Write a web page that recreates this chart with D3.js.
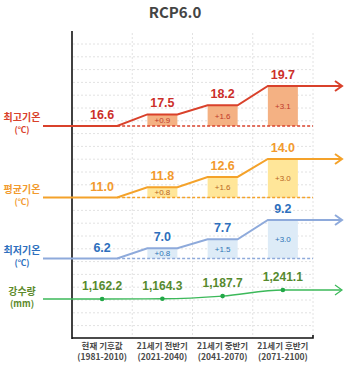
<!DOCTYPE html>
<html><head><meta charset="utf-8">
<script src="https://cdn.jsdelivr.net/npm/d3@7"></script>
<style>
html,body{margin:0;padding:0;background:#fff;}
svg{display:block;font-family:"Noto Sans CJK KR","Noto Sans",sans-serif;}
</style></head>
<body>
<script>
const categories = ["현재 기후값", "21세기 전반기", "21세기 중반기", "21세기 후반기"];
const periods = ["(1981-2010)", "(2021-2040)", "(2041-2070)", "(2071-2100)"];
const tmax = [16.6, 17.5, 18.2, 19.7];
const tmaxDelta = [null, 0.9, 1.6, 3.1];
const tavg = [11.0, 11.8, 12.6, 14.0];
const tavgDelta = [null, 0.8, 1.6, 3.0];
const tmin = [6.2, 7.0, 7.7, 9.2];
const tminDelta = [null, 0.8, 1.5, 3.0];
const precip = [1162.2, 1164.3, 1187.7, 1241.1];
const seriesLabels = ["최고기온", "평균기온", "최저기온", "강수량"];
const unitLabels = ["(℃)", "(℃)", "(℃)", "(mm)"];

const W = 347, H = 372;
const svg = d3.select("body").append("svg").attr("width", W).attr("height", H);

const x = d3.scaleBand().domain(categories).range([72, 313]);
const cx = c => x(c) + x.bandwidth() / 2;
const halfBar = 15;

// grid
const gridTop = 31, gridBottom = 338;
const g = svg.append("g");
const hLines = d3.range(0, 23).map(i => 44 + i * 12.8);
g.selectAll(".hg").data(hLines).enter().append("line")
  .attr("x1", 73).attr("x2", 313).attr("y1", d => d).attr("y2", d => d)
  .attr("stroke", "#e2e2e2").attr("stroke-width", 1).attr("stroke-dasharray", "2,2");
g.selectAll(".vg").data(categories.slice(1).concat(["end"])).enter().append("line")
  .attr("x1", (d, i) => i < 3 ? x(d) : 313).attr("x2", (d, i) => i < 3 ? x(d) : 313)
  .attr("y1", gridTop + 2).attr("y2", gridBottom)
  .attr("stroke", "#e2e2e2").attr("stroke-width", 1).attr("stroke-dasharray", "2,2");

// axes
svg.append("line").attr("x1", 72).attr("x2", 72).attr("y1", gridTop).attr("y2", gridBottom + 1)
  .attr("stroke", "#111").attr("stroke-width", 1.6);
svg.append("path").attr("d", `M72,${gridBottom}H313V${gridBottom - 3}`)
  .attr("fill", "none").attr("stroke", "#111").attr("stroke-width", 1.6);

// title
svg.append("text").attr("x", 175).attr("y", 18).attr("text-anchor", "middle")
  .attr("font-size", 15).attr("font-weight", 700).attr("fill", "#444").text("RCP6.0");

// category labels
const xl = svg.append("g").attr("font-size", 8.5).attr("font-weight", 700).attr("fill", "#4a4a4a").attr("text-anchor", "middle");
categories.forEach((c, i) => {
  xl.append("text").attr("x", cx(c)).attr("y", 349).text(c);
  xl.append("text").attr("x", cx(c)).attr("y", 360).text(periods[i]);
});

const temps = [
  {vals: tmax, deltas: tmaxDelta, y: d3.scaleLinear().domain([16.6, 19.7]).range([126, 86]),
   line: "#d9412b", bar: "#f4b183", text: "#cc2f2a", dtext: "#c0392b", label: "#d9412b", lab: 0},
  {vals: tavg, deltas: tavgDelta, y: d3.scaleLinear().domain([11.0, 14.0]).range([197.5, 159]),
   line: "#f4a22a", bar: "#ffe699", text: "#f29a2e", dtext: "#b8651f", label: "#f29a2e", lab: 1},
  {vals: tmin, deltas: tminDelta, y: d3.scaleLinear().domain([6.2, 9.2]).range([258.5, 220]),
   line: "#8eaadb", bar: "#ddebf7", text: "#2e6fbd", dtext: "#2e75b6", label: "#2e6fbd", lab: 2}
];

function arrow(sel, xEnd, yv, color, w) {
  sel.append("path").attr("d", `M${xEnd - 7},${yv - 5}L${xEnd},${yv}L${xEnd - 7},${yv + 5}`)
    .attr("fill", "none").attr("stroke", color).attr("stroke-width", w).attr("stroke-linejoin", "miter");
}

temps.forEach(s => {
  const gg = svg.append("g");
  const y0 = s.y(s.vals[0]);
  // bars
  s.vals.forEach((v, i) => {
    if (i === 0) return;
    gg.append("rect").attr("x", cx(categories[i]) - halfBar).attr("width", halfBar * 2)
      .attr("y", s.y(v)).attr("height", y0 - s.y(v)).attr("fill", s.bar);
    gg.append("text").attr("x", cx(categories[i])).attr("y", (s.y(v) + y0) / 2 + 3)
      .attr("text-anchor", "middle").attr("font-size", 8).attr("font-family", "Arial, 'Liberation Sans', sans-serif")
      .attr("fill", s.dtext).text("+" + d3.format(".1f")(s.deltas[i]));
  });
  // dashed baseline
  gg.append("line").attr("x1", cx(categories[0]) + halfBar).attr("x2", 313).attr("y1", y0).attr("y2", y0)
    .attr("stroke", s.line).attr("stroke-width", 1.3).attr("stroke-dasharray", "3,2");
  // step line
  const pts = [[43, y0]];
  s.vals.forEach((v, i) => {
    const c = cx(categories[i]);
    if (i > 0) pts.push([c - halfBar, s.y(v)]);
    if (i < 3) pts.push([c + halfBar, s.y(v)]);
  });
  const yl = s.y(s.vals[3]);
  pts.push([341, yl]);
  gg.append("path").attr("d", d3.line()(pts)).attr("fill", "none").attr("stroke", s.line).attr("stroke-width", 2);
  arrow(gg, 342, yl, s.line, 2);
  // value labels
  s.vals.forEach((v, i) => {
    gg.append("text").attr("x", cx(categories[i])).attr("y", s.y(v) - 7).attr("text-anchor", "middle")
      .attr("font-size", 12.5).attr("font-weight", 700).attr("font-family", "Arial, 'Liberation Sans', sans-serif")
      .attr("fill", s.text).text(d3.format(".1f")(v));
  });
  // left labels
  gg.append("text").attr("x", 22).attr("y", y0 - 5).attr("text-anchor", "middle").attr("font-size", 10)
    .attr("font-weight", 700).attr("fill", s.label).text(seriesLabels[s.lab]);
  gg.append("text").attr("x", 22).attr("y", y0 + 7).attr("text-anchor", "middle").attr("font-size", 8.5)
    .attr("font-weight", 700).attr("fill", s.label).text(unitLabels[s.lab]);
});

// precipitation
const yp = d3.scaleLinear().domain([1162.2, 1241.1]).range([299, 290]);
const pg = svg.append("g");
const pPts = [[43, yp(precip[0])]].concat(precip.map((v, i) => [cx(categories[i]), yp(v)])).concat([[341, yp(precip[3])]]);
pg.append("path").attr("d", d3.line().curve(d3.curveMonotoneX)(pPts)).attr("fill", "none")
  .attr("stroke", "#3cb95a").attr("stroke-width", 1.4);
arrow(pg, 342, yp(precip[3]), "#3cb95a", 1.2);
pg.selectAll("circle").data(precip).enter().append("circle")
  .attr("cx", (d, i) => cx(categories[i])).attr("cy", d => yp(d)).attr("r", 2.3).attr("fill", "#22a847");
pg.selectAll(".pl").data(precip).enter().append("text")
  .attr("x", (d, i) => cx(categories[i])).attr("y", d => yp(d) - 9).attr("text-anchor", "middle")
  .attr("font-size", 12).attr("font-weight", 700).attr("font-family", "Arial, 'Liberation Sans', sans-serif")
  .attr("fill", "#568a2e").text(d => d3.format(",.1f")(d));
pg.append("text").attr("x", 22).attr("y", 295).attr("text-anchor", "middle").attr("font-size", 10)
  .attr("font-weight", 700).attr("fill", "#5d8a2c").text(seriesLabels[3]);
pg.append("text").attr("x", 22).attr("y", 307).attr("text-anchor", "middle").attr("font-size", 9)
  .attr("font-weight", 700).attr("fill", "#5d8a2c").text(unitLabels[3]);
</script>
</body></html>
